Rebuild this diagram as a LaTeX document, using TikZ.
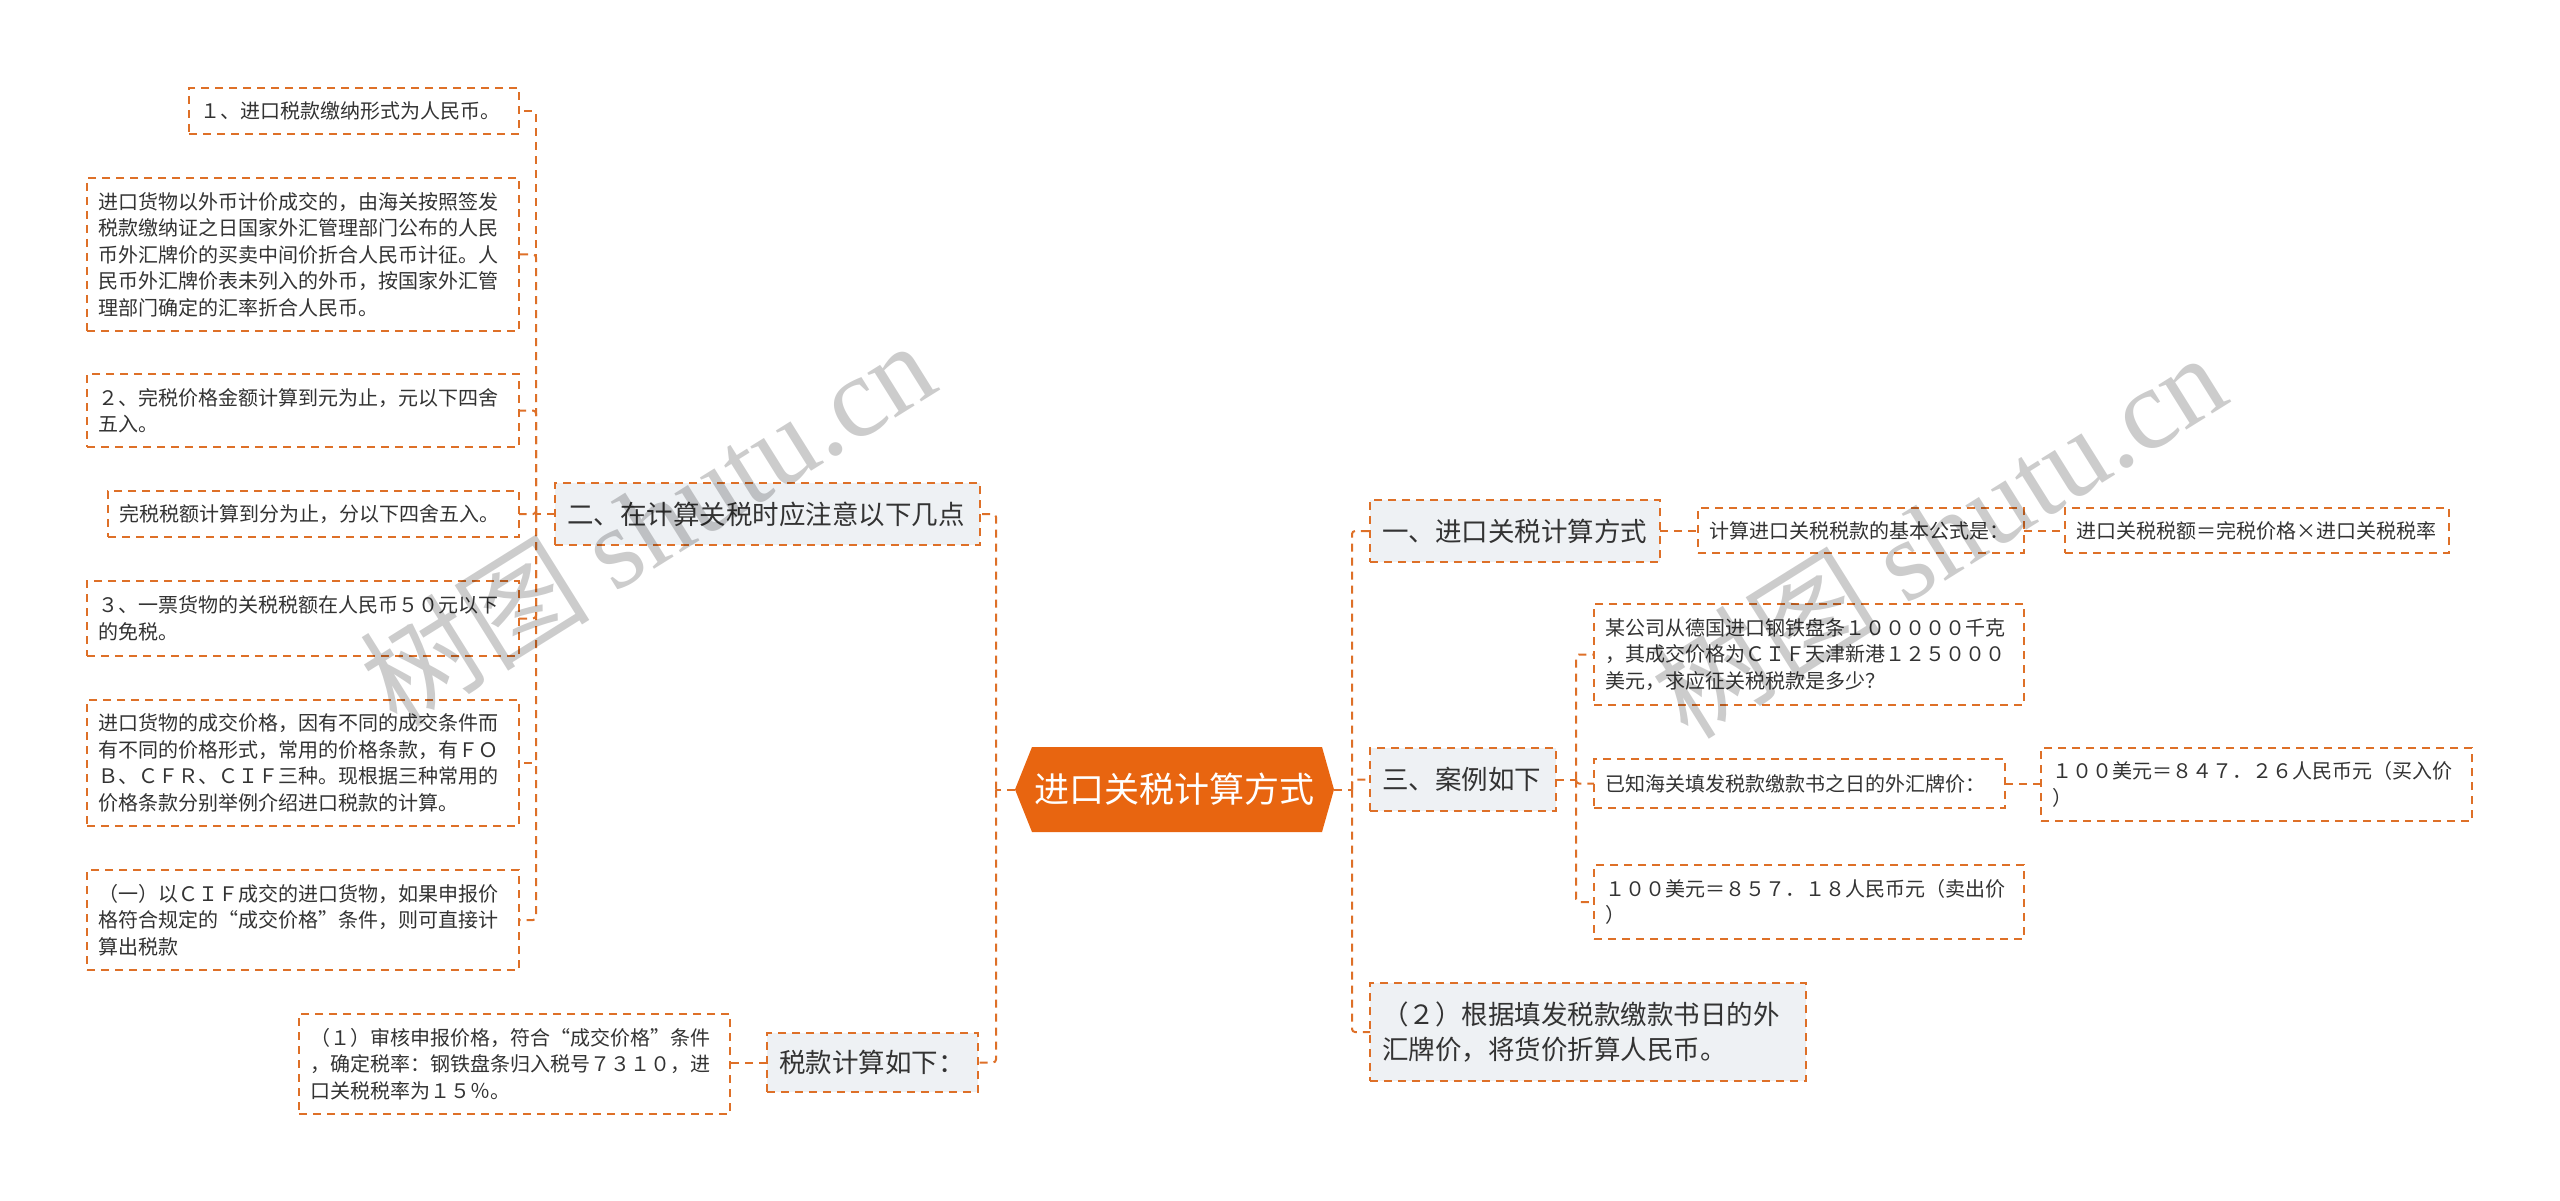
\documentclass[tikz,border=0pt]{standalone}
\usepackage{fontspec}
\setmainfont{Noto Sans CJK SC}
\newfontfamily\wmlatin{Liberation Serif}
\usetikzlibrary{backgrounds}
\definecolor{brd}{RGB}{222,112,40}
\definecolor{hexc}{RGB}{232,101,16}
\definecolor{gfill}{RGB}{238,241,244}
\definecolor{txt}{RGB}{51,51,51}
\tikzset{
 dsh/.style={draw=brd, line width=2pt, dash pattern=on 8pt off 6pt},
 conn/.style={dsh, rounded corners=3pt},
 box/.style={dsh, text=txt, align=left, inner xsep=11pt, inner ysep=4pt, outer sep=0pt, font=\fontsize{20}{26.5}\selectfont},
 gbox/.style={box, fill=gfill, inner xsep=12pt, font=\fontsize{26.5}{35}\selectfont},
 wmark/.style={rotate=32, text=black, text opacity=0.2, font=\fontsize{115}{115}\selectfont},
}
\begin{document}
\begin{tikzpicture}[x=1pt,y=-1pt]
\useasboundingbox (0,0) rectangle (2560,1201);

% central node
\node[minimum width=319pt, minimum height=85pt, inner sep=0pt, outer sep=0pt, text=white, font=\fontsize{35}{40}\selectfont] (hex) at (1174.5,789.5) {进口关税计算方式};
\begin{scope}[on background layer]
\fill[white] (0,0) rectangle (2560,1201);
\fill[hexc] (hex.west) -- ([xshift=17pt]hex.north west) -- ([xshift=-12pt]hex.north east) -- (hex.east) -- ([xshift=-12pt]hex.south east) -- ([xshift=17pt]hex.south west) -- cycle;
\end{scope}

% left branch
\node[gbox, text width=401pt, minimum height=62pt] (b2) at (767.5,514) {二、在计算关税时应注意以下几点};
\node[gbox, text width=187pt, minimum height=59pt] (tax) at (872.5,1062.5) {税款计算如下：};

\node[box, text width=308pt, minimum height=46pt] (L1) at (354,111) {１、进口税款缴纳形式为人民币。};
\node[box, text width=410pt, minimum height=153pt] (L2) at (303,254.5) {进口货物以外币计价成交的，由海关按照签发\\税款缴纳证之日国家外汇管理部门公布的人民\\币外汇牌价的买卖中间价折合人民币计征。人\\民币外汇牌价表未列入的外币，按国家外汇管\\理部门确定的汇率折合人民币。};
\node[box, text width=410pt, minimum height=73pt] (L3) at (303,410.5) {２、完税价格金额计算到元为止，元以下四舍\\五入。};
\node[box, text width=389pt, minimum height=46pt] (L4) at (313.5,514) {完税税额计算到分为止，分以下四舍五入。};
\node[box, text width=410pt, minimum height=75pt] (L5) at (303,618.5) {３、一票货物的关税税额在人民币５０元以下\\的免税。};
\node[box, text width=410pt, minimum height=126pt] (L6) at (303,763) {进口货物的成交价格，因有不同的成交条件而\\有不同的价格形式，常用的价格条款，有ＦＯ\\Ｂ、ＣＦＲ、ＣＩＦ三种。现根据三种常用的\\价格条款分别举例介绍进口税款的计算。};
\node[box, text width=410pt, minimum height=100pt] (L7) at (303,920) {（一）以ＣＩＦ成交的进口货物，如果申报价\\格符合规定的“成交价格”条件，则可直接计\\算出税款};
\node[box, text width=409pt, minimum height=100pt] (p1) at (514.5,1064) {（１）审核申报价格，符合“成交价格”条件\\，确定税率：钢铁盘条归入税号７３１０，进\\口关税税率为１５％。};

% right branch
\node[gbox, text width=266pt, minimum height=62pt] (b1) at (1515,531) {一、进口关税计算方式};
\node[box, text width=304pt, minimum height=45pt] (q) at (1861,530.5) {计算进口关税税款的基本公式是：};
\node[box, text width=362pt, minimum height=45pt] (f) at (2257,530.5) {进口关税税额＝完税价格×进口关税税率};
\node[gbox, text width=162pt, minimum height=63pt] (b3) at (1463,779.5) {三、案例如下};
\node[box, text width=408pt, minimum height=101pt] (c1) at (1809,654.5) {某公司从德国进口钢铁盘条１０００００千克\\，其成交价格为ＣＩＦ天津新港１２５０００\\美元，求应征关税税款是多少？};
\node[box, text width=389pt, minimum height=49pt] (c2) at (1799.5,783.5) {已知海关填发税款缴款书之日的外汇牌价：};
\node[box, text width=409pt, minimum height=73pt] (c4) at (2256.5,784.5) {１００美元＝８４７．２６人民币元（买入价\\）};
\node[box, text width=408pt, minimum height=74pt] (c3) at (1809,902) {１００美元＝８５７．１８人民币元（卖出价\\）};
\node[gbox, text width=412pt, minimum height=98pt] (b4) at (1588,1032) {（２）根据填发税款缴款书日的外\\汇牌价，将货价折算人民币。};

% junctions
\coordinate (jL) at (996,789.5);
\coordinate (jB) at (536,514);
\coordinate (jR) at (1352,789.5);
\coordinate (j3) at (1576,779.5);

% connectors left
\draw[conn] (hex.west) -- (jL);
\draw[conn] (jL) |- (b2.east);
\draw[conn] (jL) |- (tax.east);
\draw[conn] (b2.west) -- (jB);
\foreach \n in {L1,L2,L3,L4,L5,L6,L7} { \draw[conn] (jB) |- (\n.east); }
\draw[conn] (tax.west) -- (tax.west -| p1.east);

% connectors right
\draw[conn] (hex.east) -- (jR);
\foreach \n in {b1,b3,b4} { \draw[conn] (jR) |- (\n.west); }
\draw[conn] (b1.east) -- (b1.east -| q.west);
\draw[conn] (q.east) -- (f.west);
\draw[conn] (b3.east) -- (j3);
\foreach \n in {c1,c2,c3} { \draw[conn] (j3) |- (\n.west); }
\draw[conn] (c2.east) -- (c2.east -| c4.west);

% watermarks
\node[wmark] (wm1) at (647,522) {树图 {\wmlatin shutu.cn}};
\node[wmark] (wm2) at (1938,534) {树图 {\wmlatin shutu.cn}};
\end{tikzpicture}
\end{document}
